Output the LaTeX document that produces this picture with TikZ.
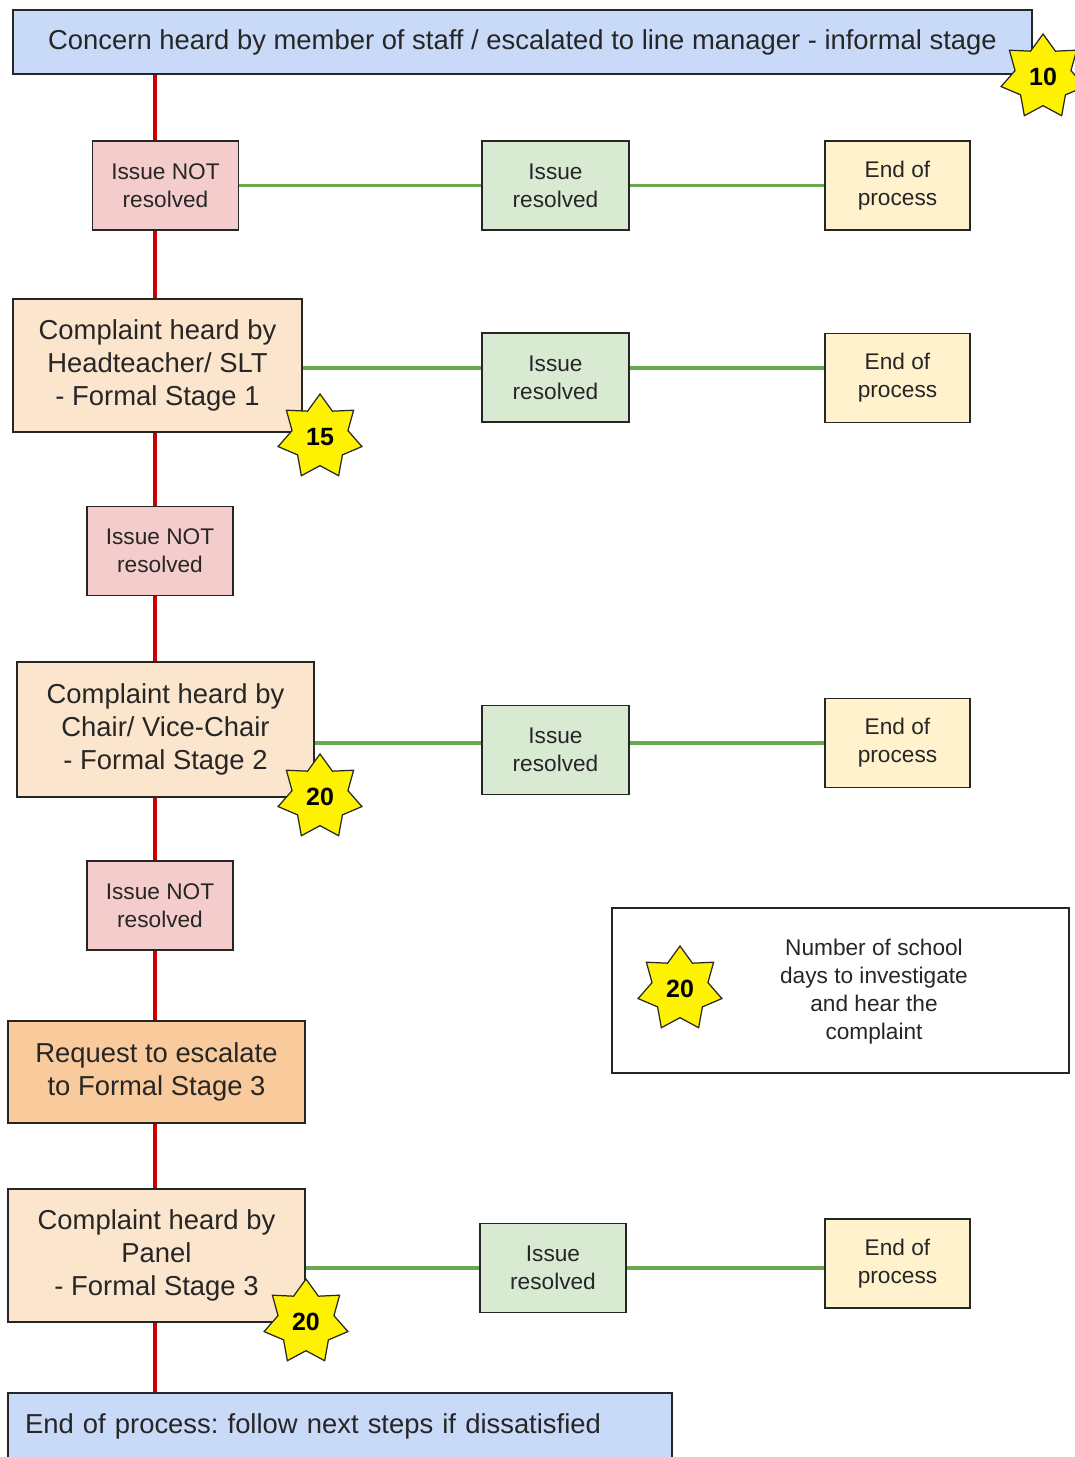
\documentclass[tikz,border=0pt]{standalone}
\usepackage{fontspec}
\setmainfont{Liberation Sans}
\usetikzlibrary{shapes.geometric, backgrounds}

\definecolor{informalblue}{HTML}{C9DAF8}
\definecolor{notred}{HTML}{F4CCCC}
\definecolor{okgreen}{HTML}{D9EAD3}
\definecolor{endyellow}{HTML}{FFF2CC}
\definecolor{stagepeach}{HTML}{FCE5CD}
\definecolor{requestorange}{HTML}{F9CB9C}
\definecolor{spinered}{HTML}{CC0000}
\definecolor{branchgreen}{HTML}{6AA84F}
\frenchspacing

\begin{document}
\begin{tikzpicture}[x=0.02cm, y=-0.02cm,
  box/.style={draw=black!85, line width=0.7pt, align=center, inner sep=0pt, text=black!85},
  bigtext/.style={font=\fontsize{15.6}{18.7}\selectfont},
  smalltext/.style={font=\fontsize{12.9}{15.9}\selectfont},
  notbox/.style={box, smalltext, fill=notred, minimum width=2.92cm, minimum height=1.78cm},
  okbox/.style={box, smalltext, fill=okgreen, minimum width=2.94cm, minimum height=1.78cm},
  endbox/.style={box, smalltext, fill=endyellow, minimum width=2.9cm, minimum height=1.78cm},
  stagebox/.style={box, bigtext, fill=stagepeach, minimum width=5.94cm, minimum height=2.66cm},
  days/.style={star, star points=7, star point ratio=1.5, draw=black!85, fill=yellow,
    line width=0.7pt, minimum size=1.72cm, inner sep=0pt, text=black,
    font=\fontsize{14.2}{14.2}\selectfont\bfseries},
  spine/.style={draw=spinered, line width=2.3pt},
  branch/.style={draw=branchgreen, line width=2pt}]

  \useasboundingbox (0,0) rectangle (1075,1457);

  % Informal stage
  \node[box, bigtext, fill=informalblue, minimum width=20.38cm, minimum height=1.28cm]
    (informal) at (522.5,42) {Concern heard by member of staff / escalated to line manager - informal stage};

  % Left column
  \node[notbox] (not1) at (165.5,185.5) {Issue NOT\\resolved};
  \node[stagebox, minimum width=5.78cm] (stage1) at (157.5,365.5)
    {Complaint heard by\\Headteacher/ SLT\\- Formal Stage 1};
  \node[notbox] (not2) at (160,551) {Issue NOT\\resolved};
  \node[stagebox, minimum height=2.7cm] (stage2) at (165.5,729.5)
    {Complaint heard by\\Chair/ Vice-Chair\\- Formal Stage 2};
  \node[notbox] (not3) at (160,905.5) {Issue NOT\\resolved};
  \node[stagebox, fill=requestorange, minimum height=2.04cm] (request) at (156.5,1072)
    {Request to escalate\\to Formal Stage 3};
  \node[stagebox] (stage3) at (156.5,1255.5)
    {Complaint heard by\\Panel\\- Formal Stage 3};
  \node[box, bigtext, fill=informalblue, text width=12.6cm, inner xsep=0.34cm,
    minimum height=1.34cm, align=left] (finish) at (340,1426.5)
    {End of process: follow next steps if dissatisfied};

  % Resolved branches
  \node[okbox] (ok1) at (555.5,185.5) {Issue\\resolved};
  \node[endbox] (end1) at (897.5,185.5) {End of\\process};
  \node[okbox] (ok2) at (555.5,377.5) {Issue\\resolved};
  \node[endbox] (end2) at (897.5,378) {End of\\process};
  \node[okbox] (ok3) at (555.5,750) {Issue\\resolved};
  \node[endbox] (end3) at (897.5,743) {End of\\process};
  \node[okbox, minimum width=2.92cm] (ok4) at (553,1268) {Issue\\resolved};
  \node[endbox] (end4) at (897.5,1263.5) {End of\\process};

  % Key
  \node[box, minimum width=9.14cm, minimum height=3.3cm] (key) at (840.5,990.5) {};
  \node[smalltext, align=center, text=black!85] (keytext) at (874,992)
    {Number of school\\days to investigate\\and hear the\\complaint};

  % Connectors
  \coordinate (spinex) at (155,0);
  \coordinate (row2) at (0,368);
  \begin{scope}[on background layer]
    \draw[spine] (informal.south -| spinex) -- (not1.north -| spinex);
    \draw[spine] (not1.south -| spinex) -- (stage1.north -| spinex);
    \draw[spine] (stage1.south -| spinex) -- (not2.north -| spinex);
    \draw[spine] (not2.south -| spinex) -- (stage2.north -| spinex);
    \draw[spine] (stage2.south -| spinex) -- (not3.north -| spinex);
    \draw[spine] (not3.south -| spinex) -- (request.north -| spinex);
    \draw[spine] (request.south -| spinex) -- (stage3.north -| spinex);
    \draw[spine] (stage3.south -| spinex) -- (finish.north -| spinex);

    \draw[branch] (not1.east) -- (ok1.west);
    \draw[branch] (ok1.east) -- (end1.west);
    \draw[branch] (stage1.east |- row2) -- (ok2.west |- row2);
    \draw[branch] (ok2.east |- row2) -- (end2.west |- row2);
    \draw[branch] (stage2.east |- end3) -- (ok3.west |- end3);
    \draw[branch] (ok3.east |- end3) -- (end3.west);
    \draw[branch] (stage3.east |- ok4) -- (ok4.west);
    \draw[branch] (ok4.east) -- (end4.west |- ok4);
  \end{scope}

  % Day counts
  \node[days] (days10) at (1043,77) {10};
  \node[days] (days15) at (320,437) {15};
  \node[days] (days20a) at (320,797) {20};
  \node[days] (days20b) at (306,1322) {20};
  \node[days] (days20key) at (680,989) {20};

\end{tikzpicture}
\end{document}
